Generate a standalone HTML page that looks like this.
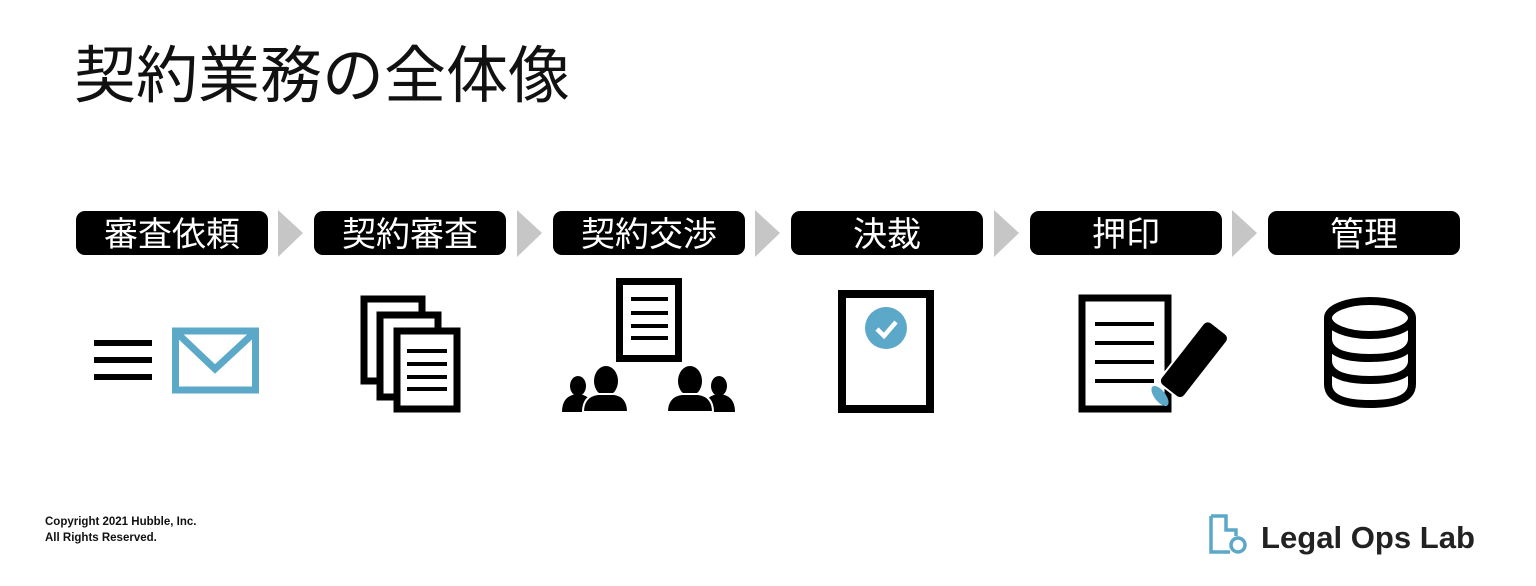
<!DOCTYPE html>
<html><head><meta charset="utf-8"><style>
html,body{margin:0;padding:0;background:#fff;}
body{width:1536px;height:586px;overflow:hidden;position:relative;}
svg{position:absolute;left:0;top:0;}
</style></head><body>
<svg width="1536" height="586" viewBox="0 0 1536 586" xmlns="http://www.w3.org/2000/svg">
<text x="74" y="97" font-family="Liberation Sans, Noto Sans CJK JP, sans-serif" font-size="62" fill="#111">契約業務の全体像</text>

<g font-family="Liberation Sans, Noto Sans CJK JP, sans-serif" font-size="34" fill="#fff" text-anchor="middle">
<rect x="76" y="211" width="192" height="44" rx="9" fill="#000"/><text x="172" y="246">審査依頼</text>
<rect x="314" y="211" width="192" height="44" rx="9" fill="#000"/><text x="410" y="246">契約審査</text>
<rect x="553" y="211" width="192" height="44" rx="9" fill="#000"/><text x="649" y="246">契約交渉</text>
<rect x="791" y="211" width="192" height="44" rx="9" fill="#000"/><text x="887" y="246">決裁</text>
<rect x="1030" y="211" width="192" height="44" rx="9" fill="#000"/><text x="1126" y="246">押印</text>
<rect x="1268" y="211" width="192" height="44" rx="9" fill="#000"/><text x="1364" y="246">管理</text>
</g>
<g fill="#c6c6c6">
<polygon points="278,210 303,233 278,257"/>
<polygon points="517,210 542,233 517,257"/>
<polygon points="755,210 780,233 755,257"/>
<polygon points="994,210 1019,233 994,257"/>
<polygon points="1232,210 1257,233 1232,257"/>
</g>

<g fill="#000"><rect x="94" y="340" width="58" height="6"/><rect x="94" y="357" width="58" height="6"/><rect x="94" y="374" width="58" height="6"/></g>
<rect x="175.5" y="331" width="80" height="59" fill="none" stroke="#5ba8c8" stroke-width="7"/>
<polyline points="176,332 215,369 255,332" fill="none" stroke="#5ba8c8" stroke-width="7"/>

<g fill="#fff" stroke="#000" stroke-width="7">
<rect x="364" y="299" width="58" height="82"/>
<rect x="380" y="315" width="58" height="82"/>
<rect x="397" y="331" width="60" height="78"/>
</g>
<g fill="#000"><rect x="407" y="349" width="40" height="4"/><rect x="407" y="362" width="40" height="4"/><rect x="407" y="375" width="40" height="4"/><rect x="407" y="387" width="40" height="4"/></g>

<rect x="619.5" y="281.5" width="59" height="77" fill="#fff" stroke="#000" stroke-width="7"/>
<g fill="#000"><rect x="631" y="297" width="37" height="4"/><rect x="631" y="311" width="37" height="4"/><rect x="631" y="324" width="37" height="4"/><rect x="631" y="336" width="37" height="4"/>
<ellipse cx="578" cy="386" rx="8" ry="10"/><path d="M562,412 Q562,395 578,394 Q590,395 592,405 L586,412 Z"/>
<ellipse cx="606" cy="381" rx="12" ry="15"/><path d="M583,412 Q583,396 598,394 L614,394 Q628,396 628,412 Z" stroke="#fff" stroke-width="2"/>
<ellipse cx="719" cy="386" rx="8" ry="10"/><path d="M735,412 Q735,395 719,394 Q707,395 705,405 L711,412 Z"/>
<ellipse cx="690" cy="381" rx="12" ry="15"/><path d="M667,412 Q667,396 682,394 L698,394 Q713,396 713,412 Z" stroke="#fff" stroke-width="2"/>
</g>

<rect x="842" y="294" width="88" height="115" fill="none" stroke="#000" stroke-width="8"/>
<circle cx="886" cy="328" r="21" fill="#5ba8c8"/>
<polyline points="877,329 884,336 896,322" fill="none" stroke="#fff" stroke-width="4.5"/>

<rect x="1082" y="298" width="86" height="111" fill="#fff" stroke="#000" stroke-width="7"/>
<g fill="#000"><rect x="1095" y="322" width="59" height="4"/><rect x="1095" y="341" width="59" height="4"/><rect x="1095" y="360" width="59" height="4"/><rect x="1095" y="379" width="59" height="4"/></g>
<g transform="translate(1189,366) rotate(38)">
<rect x="-15" y="-48" width="30" height="80" rx="6" fill="#000" stroke="#fff" stroke-width="2"/>
</g>
<ellipse cx="1160" cy="396" rx="5.5" ry="12" transform="rotate(-38 1160 396)" fill="#5ba8c8"/>

<g fill="none" stroke="#000" stroke-width="8">
<ellipse cx="1370" cy="318" rx="42" ry="17"/>
<path d="M1328,318 L1328,384 Q1328,404 1370,404 Q1412,404 1412,384 L1412,318"/>
<path d="M1328,340 Q1330,358 1370,358 Q1410,358 1412,340"/>
<path d="M1328,362 Q1330,380 1370,380 Q1410,380 1412,362"/>
</g>

<g font-family="Liberation Sans, sans-serif" font-size="11.5" font-weight="bold" fill="#111">
<text x="45" y="525">Copyright 2021 Hubble, Inc.</text>
<text x="45" y="541">All Rights Reserved.</text>
</g>

<path d="M1211,516 L1226,516 L1226,530 L1236,530 L1236,536" fill="none" stroke="#5ba8c8" stroke-width="3.5"/>
<path d="M1211,516 L1211,552 L1230,552" fill="none" stroke="#5ba8c8" stroke-width="3.5"/>
<circle cx="1238" cy="545" r="7" fill="none" stroke="#5ba8c8" stroke-width="3.5"/>
<text x="1261" y="548" font-family="Liberation Sans, sans-serif" font-size="31" font-weight="bold" fill="#222" textLength="214" lengthAdjust="spacingAndGlyphs">Legal Ops Lab</text>
</svg>
</body></html>
